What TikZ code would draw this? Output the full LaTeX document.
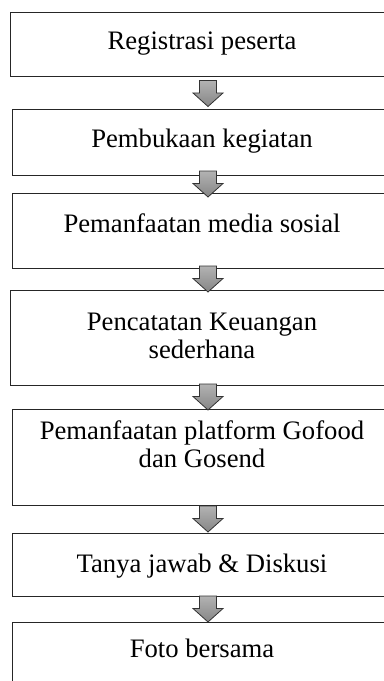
\documentclass[tikz,border=0pt]{standalone}
\usepackage{fontspec}
\setmainfont{Liberation Serif}
\usetikzlibrary{calc}

\tikzset{
  stagebox/.style={draw=black!85, line width=0.75pt, minimum width=288pt, inner sep=0pt},
  stagetext/.style={font=\fontsize{20}{21}\selectfont, align=center, anchor=base, inner sep=0pt},
  flowarrow/.style={draw=black!80, line width=0.6pt, top color=gray!60, bottom color=gray!95}
}

\begin{document}
\begin{tikzpicture}[x=0.75pt, y=-0.75pt]
\useasboundingbox (0,0) rectangle (384,681);
\clip (0,0) rectangle (384,681);

% boxes (right side runs off the page)
\node[stagebox, minimum height=48pt]    (b1) at (202,45)    {};
\node[stagebox, minimum height=48.75pt] (b2) at (204,142.5) {};
\node[stagebox, minimum height=56.25pt] (b3) at (204,230.5) {};
\node[stagebox, minimum height=71.25pt] (b4) at (202,337.5) {};
\node[stagebox, minimum height=72pt]    (b5) at (204,457)   {};
\node[stagebox, minimum height=47.25pt] (b6) at (204,564.5) {};
\node[stagebox, minimum height=51pt]    (b7) at (204,656)   {};

% labels (base = last line)
\node[stagetext] (t1) at (202,50)  {Registrasi peserta};
\node[stagetext] (t2) at (202,147) {Pembukaan kegiatan};
\node[stagetext] (t3) at (202,232) {Pemanfaatan media sosial};
\node[stagetext] (t4) at (202,358) {Pencatatan Keuangan\\sederhana};
\node[stagetext] (t5) at (202,467) {Pemanfaatan platform Gofood\\dan Gosend};
\node[stagetext] (t6) at (202,572) {Tanya jawab \& Diskusi};
\node[stagetext] (t7) at (202,657) {Foto bersama};

% block arrows between the boxes
\coordinate (ax) at (208,0);
\foreach \u/\v in {b1/b2, b2/b3, b3/b4, b4/b5, b5/b6, b6/b7}{
  \coordinate (mid) at ($(\u.south)!0.5!(\v.north)$);
  \coordinate (m) at (ax |- mid);
  \draw[flowarrow] ($(m)+(-8.5,-13)$) -- ($(m)+(8.5,-13)$) -- ($(m)+(8.5,-0.5)$)
    -- ($(m)+(15,-0.5)$) -- ($(m)+(0,13)$) -- ($(m)+(-15,-0.5)$)
    -- ($(m)+(-8.5,-0.5)$) -- cycle;
}

\end{tikzpicture}
\end{document}
